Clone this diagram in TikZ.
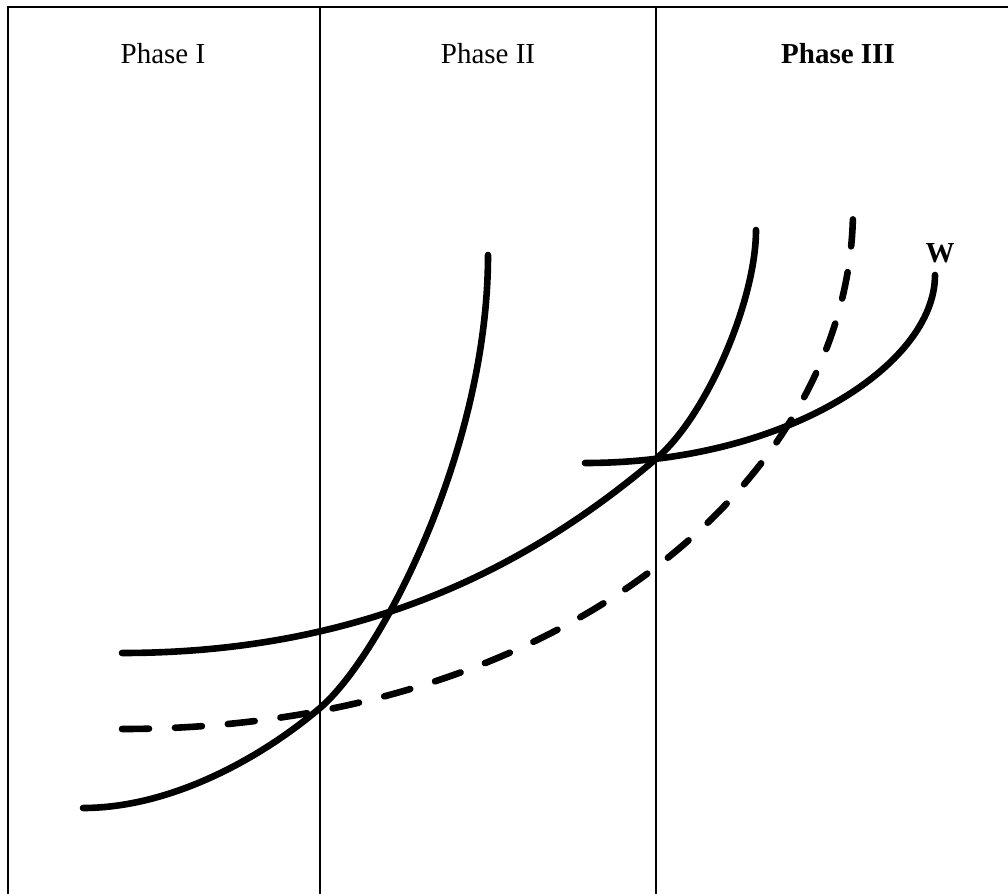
\documentclass[tikz,border=0pt]{standalone}
\usepackage{fontspec}
\setmainfont{Liberation Serif}
\usepackage{tikz}
\usetikzlibrary{positioning}

\tikzset{
  curve/.style={line width=3.3pt,line cap=round,line join=round},
  dashcurve/.style={curve,dash pattern=on 13.5pt off 13pt},
  divider/.style={line width=0.8pt},
  phaselabel/.style={anchor=base,inner sep=0pt,font=\fontsize{14.5}{17}\selectfont}
}

\begin{document}
\begin{tikzpicture}[x=0.5pt,y=-0.5pt]
  \useasboundingbox (0,0) rectangle (1008,894);

  % frame and phase dividers
  \draw[divider] (8,894) -- (8,7) -- (1008,7);
  \draw[divider] (320,7) -- (320,894);
  \draw[divider] (656,7) -- (656,894);

  \node[phaselabel] (ph1) at (163,63) {Phase I};
  \node[phaselabel] (ph2) at (488,63) {Phase II};
  \node[phaselabel] (ph3) at (838,63) {\textbf{Phase III}};

  % steep curve
  \draw[curve] (83,808) .. controls (170,808) and (260,759) .. (320,708)
                        .. controls (380,657) and (488,450) .. (488,255);
  % middle curve
  \draw[curve] (122,653) .. controls (372,653) and (537,560) .. (657,458)
                         .. controls (707,415) and (756,300) .. (756,230);
  % dashed curve
  \draw[dashcurve] (122,729) .. controls (560,729) and (850,480) .. (853,213);
  % flat curve
  \draw[curve] (585,463) .. controls (785,463) and (935,365) .. (935,275);

  \node[phaselabel] (w) at (940,262) {\textbf{W}};
\end{tikzpicture}
\end{document}
